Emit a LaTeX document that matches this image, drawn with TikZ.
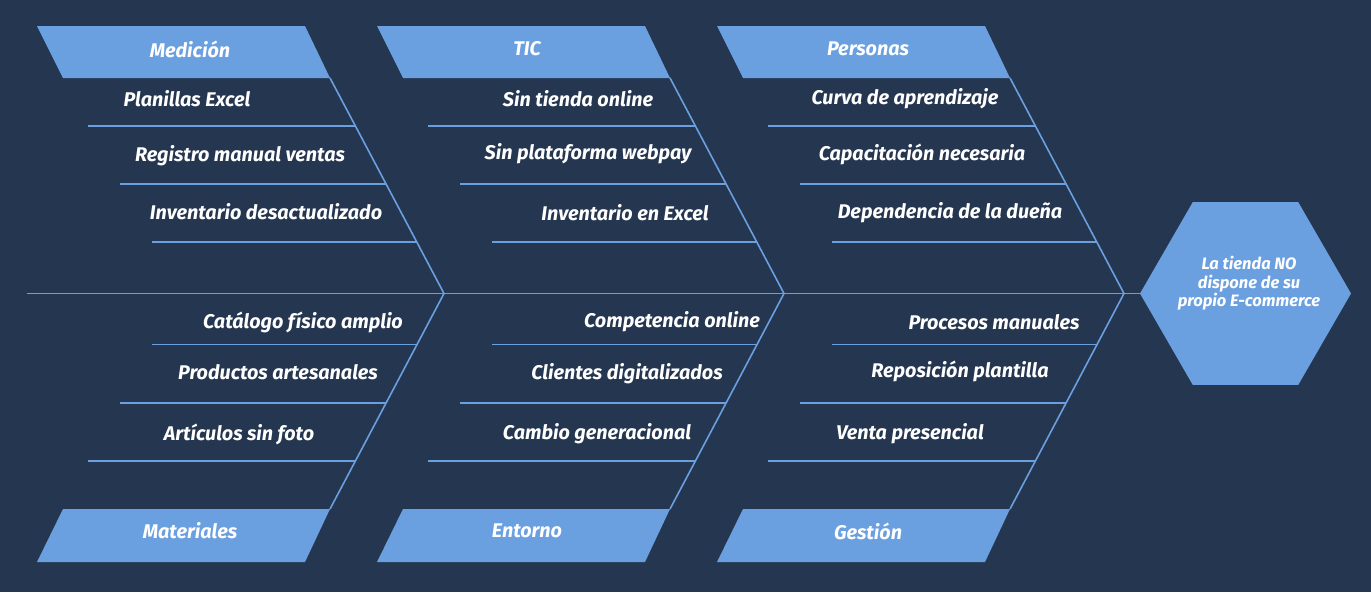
\documentclass[tikz,border=0pt]{standalone}
\usepackage{fontspec}
\setmainfont{Fira Sans}
\usetikzlibrary{shapes.geometric}
\definecolor{bg}{HTML}{253650}
\definecolor{accent}{HTML}{6A9FE0}
\begin{document}
\begin{tikzpicture}[x=1pt,y=-1pt,
  bone/.style={draw=accent,line width=1.6pt},
  catbox/.style={fill=accent},
  lbl/.style={text=white,font=\fontsize{19.8}{22}\selectfont\bfseries\itshape,inner sep=0pt,anchor=center},
  hexlbl/.style={text=white,font=\fontsize{16.5}{18.5}\selectfont\bfseries\itshape,inner sep=0pt,align=center,anchor=center}]
\fill[bg] (0,0) rectangle (1371,592);
\useasboundingbox (0,0) rectangle (1371,592);

% effect hexagon
\node[regular polygon,regular polygon sides=6,minimum size=211pt,fill=accent,inner sep=0pt] (effect) at (1245.5,293.5) {};
\node[hexlbl] (effecttxt) at (1249,283.5) {La tienda NO\\dispone de su\\propio E-commerce};

% main spine
\coordinate (tail) at (27,293.5);
\coordinate (j1) at (444,293.5);
\coordinate (j2) at (784,293.5);
\coordinate (j3) at (1124,293.5);
\draw[bone] (tail) -- (j1) -- (j2) -- (j3) -- (effect.west);

\foreach \i/\o in {1/0,2/340,3/680}{
  % top category box
  \fill[catbox] (37+\o,26) -- (305+\o,26) -- (330+\o,78) -- (63+\o,78) -- cycle;
  \coordinate (ct\i) at (330+\o,78);
  % bottom category box
  \fill[catbox] (63+\o,509) -- (330+\o,509) -- (305+\o,562) -- (37+\o,562) -- cycle;
  \coordinate (cb\i) at (330+\o,509);
  % ribs
  \draw[bone] (ct\i) -- (j\i) -- (cb\i);
  % sub-cause lines (top)
  \coordinate (ta\i) at (88+\o,126);   \coordinate (tA\i) at (355.5+\o,126);
  \coordinate (tb\i) at (120+\o,184);  \coordinate (tB\i) at (386.3+\o,184);
  \coordinate (tc\i) at (152+\o,242);  \coordinate (tC\i) at (417+\o,242);
  \draw[bone] (ta\i) -- (tA\i);
  \draw[bone] (tb\i) -- (tB\i);
  \draw[bone] (tc\i) -- (tC\i);
  % sub-cause lines (bottom)
  \coordinate (ba\i) at (152+\o,344.5); \coordinate (bA\i) at (417+\o,344.5);
  \coordinate (bb\i) at (120+\o,403);   \coordinate (bB\i) at (386.3+\o,403);
  \coordinate (bc\i) at (88+\o,461);    \coordinate (bC\i) at (355.5+\o,461);
  \draw[bone] (ba\i) -- (bA\i);
  \draw[bone] (bb\i) -- (bB\i);
  \draw[bone] (bc\i) -- (bC\i);
}

% category labels
\node[lbl] (cat1) at (190,49) {Medición};
\node[lbl] (cat2) at (527,49) {TIC};
\node[lbl] (cat3) at (868,49) {Personas};
\node[lbl] (cat4) at (190,531) {Materiales};
\node[lbl] (cat5) at (527,531) {Entorno};
\node[lbl] (cat6) at (868,531) {Gestión};

% column 1
\node[lbl] (m1) at (187,99) {Planillas Excel};
\node[lbl] (m2) at (240,156) {Registro manual ventas};
\node[lbl] (m3) at (266,212) {Inventario desactualizado};
\node[lbl] (a1) at (303,322) {Catálogo físico amplio};
\node[lbl] (a2) at (278,372) {Productos artesanales};
\node[lbl] (a3) at (239,434) {Artículos sin foto};
% column 2
\node[lbl] (t1) at (578,99) {Sin tienda online};
\node[lbl] (t2) at (588,154) {Sin plataforma webpay};
\node[lbl] (t3) at (625,213) {Inventario en Excel};
\node[lbl] (e1) at (672,322) {Competencia online};
\node[lbl] (e2) at (627,374) {Clientes digitalizados};
\node[lbl] (e3) at (597,434) {Cambio generacional};
% column 3
\node[lbl] (p1) at (905,99) {Curva de aprendizaje};
\node[lbl] (p2) at (922,154) {Capacitación necesaria};
\node[lbl] (p3) at (950,213) {Dependencia de la dueña};
\node[lbl] (g1) at (994,322) {Procesos manuales};
\node[lbl] (g2) at (960,371) {Reposición plantilla};
\node[lbl] (g3) at (910,434) {Venta presencial};
\end{tikzpicture}
\end{document}
